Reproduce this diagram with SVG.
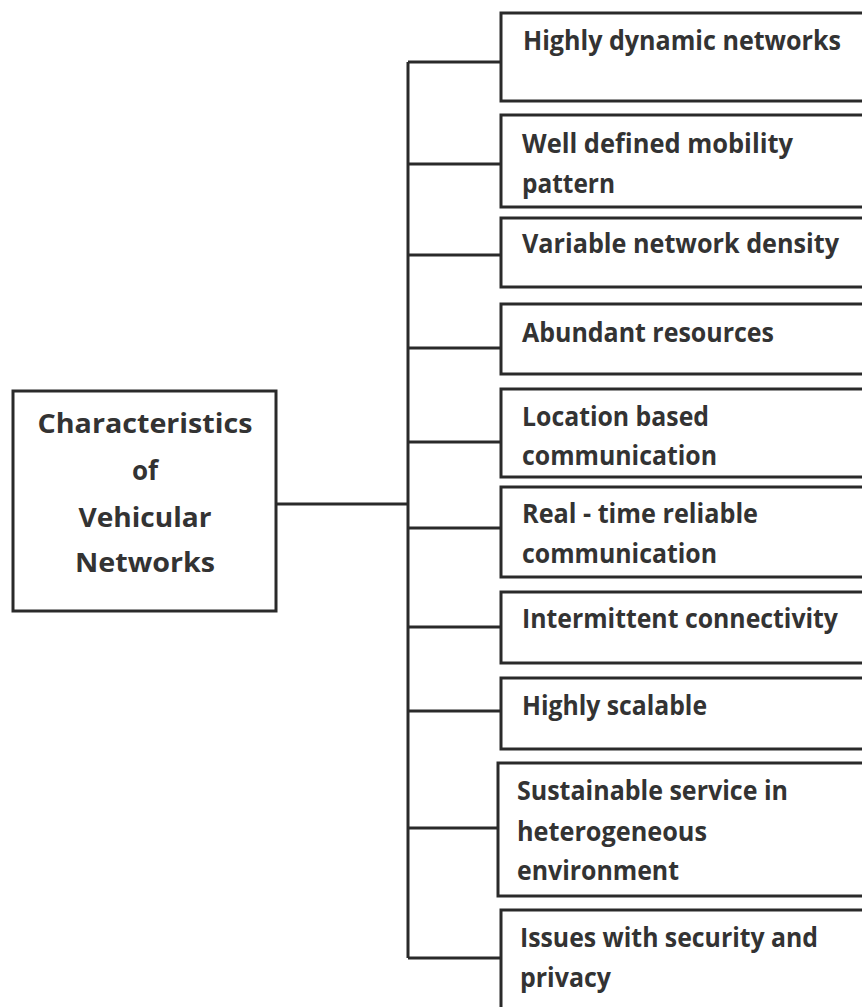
<svg xmlns="http://www.w3.org/2000/svg" width="862" height="1007" viewBox="0 0 862 1007">
<style>
.box{fill:#fff;stroke:#2a2a2a;stroke-width:3}
.ln{fill:none;stroke:#2a2a2a;stroke-width:3}
text{font-family:"Open Sans","Liberation Sans",sans-serif;font-weight:bold;font-size:26px;fill:#333}
.c{text-anchor:middle}
</style>
<rect width="862" height="1007" fill="#fff"/>
<g id="connectors">
<path class="ln" d="M276 504H408M408 62V958M408 62H501M408 164H501M408 255H501M408 348H501M408 442H501M408 528H501M408 627H501M408 711H501M408 828H498M408 958H501"/>
</g>
<g id="root">
<rect class="box" x="13" y="391" width="263" height="220"/>
<text class="c" x="145" y="433" textLength="215" lengthAdjust="spacingAndGlyphs">Characteristics</text>
<text class="c" x="145" y="480">of</text>
<text class="c" x="145" y="527" textLength="133" lengthAdjust="spacingAndGlyphs">Vehicular</text>
<text class="c" x="145" y="572" textLength="140" lengthAdjust="spacingAndGlyphs">Networks</text>
</g>
<g id="n1"><rect class="box" x="501" y="13" width="370" height="88"/>
<text x="523" y="50" textLength="318" lengthAdjust="spacingAndGlyphs">Highly dynamic networks</text></g>
<g id="n2"><rect class="box" x="501" y="115" width="370" height="92"/>
<text x="522" y="153" textLength="271" lengthAdjust="spacingAndGlyphs">Well defined mobility</text>
<text x="522" y="193" textLength="93" lengthAdjust="spacingAndGlyphs">pattern</text></g>
<g id="n3"><rect class="box" x="501" y="218" width="370" height="69"/>
<text x="522" y="253" textLength="317" lengthAdjust="spacingAndGlyphs">Variable network density</text></g>
<g id="n4"><rect class="box" x="501" y="304" width="370" height="70"/>
<text x="522" y="342" textLength="252" lengthAdjust="spacingAndGlyphs">Abundant resources</text></g>
<g id="n5"><rect class="box" x="501" y="389" width="370" height="88"/>
<text x="522" y="426" textLength="187" lengthAdjust="spacingAndGlyphs">Location based</text>
<text x="522" y="465" textLength="195" lengthAdjust="spacingAndGlyphs">communication</text></g>
<g id="n6"><rect class="box" x="501" y="487" width="370" height="90"/>
<text x="522" y="523" textLength="236" lengthAdjust="spacingAndGlyphs">Real - time reliable</text>
<text x="522" y="563" textLength="195" lengthAdjust="spacingAndGlyphs">communication</text></g>
<g id="n7"><rect class="box" x="501" y="592" width="370" height="71"/>
<text x="522" y="628" textLength="316" lengthAdjust="spacingAndGlyphs">Intermittent connectivity</text></g>
<g id="n8"><rect class="box" x="501" y="678" width="370" height="71"/>
<text x="522" y="715" textLength="185" lengthAdjust="spacingAndGlyphs">Highly scalable</text></g>
<g id="n9"><rect class="box" x="498" y="763" width="373" height="133"/>
<text x="517" y="800" textLength="271" lengthAdjust="spacingAndGlyphs">Sustainable service in</text>
<text x="517" y="841" textLength="190" lengthAdjust="spacingAndGlyphs">heterogeneous</text>
<text x="517" y="880" textLength="162" lengthAdjust="spacingAndGlyphs">environment</text></g>
<g id="n10"><rect class="box" x="501" y="910" width="370" height="110"/>
<text x="520" y="947" textLength="298" lengthAdjust="spacingAndGlyphs">Issues with security and</text>
<text x="520" y="987" textLength="91" lengthAdjust="spacingAndGlyphs">privacy</text></g>
</svg>
